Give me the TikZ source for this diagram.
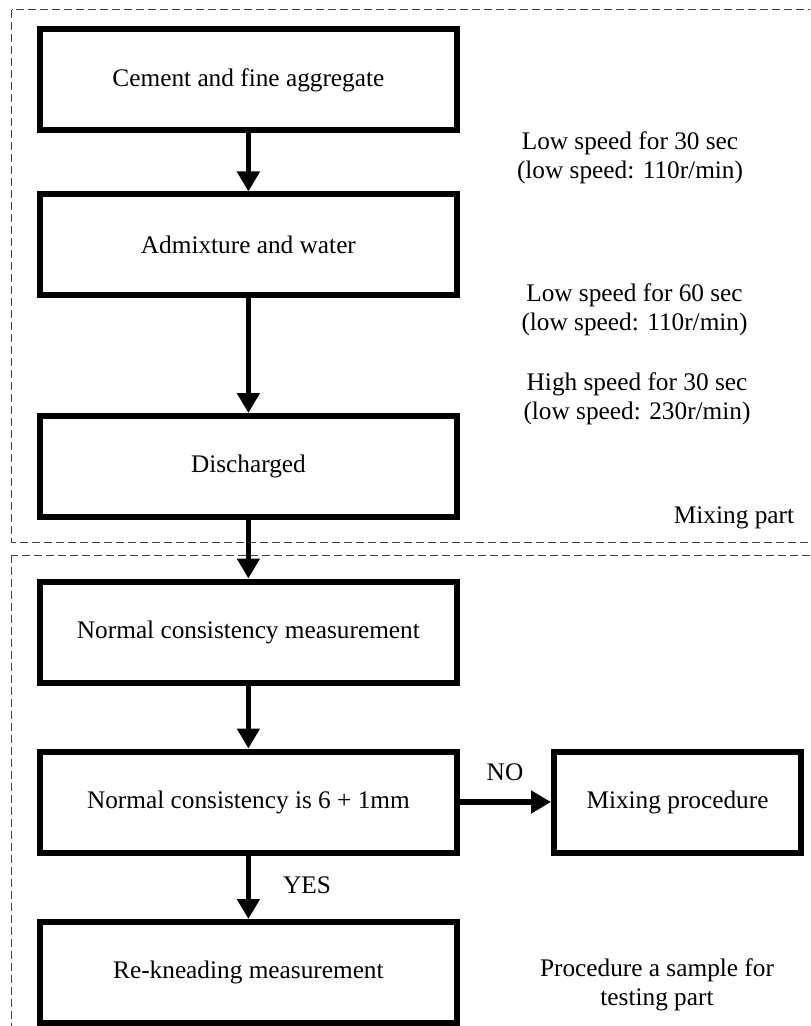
\documentclass[tikz,border=0pt]{standalone}
\usepackage{fontspec}
\setmainfont{Liberation Serif}
\usetikzlibrary{arrows.meta}
\usetikzlibrary{positioning}

\begin{document}
\begin{tikzpicture}[x=0.5pt, y=-0.5pt, every node/.style={font=\fontsize{12.65}{14.5}\selectfont}]
\tikzstyle{caja}=[
    draw,
    line width=3pt,
    minimum width=208.5pt,
    minimum height=50.5pt,
    inner sep=0pt
]
\tikzstyle{flecha}=[-{Triangle[length=10pt,width=11pt]}, line width=2.8pt]
\tikzstyle{zona}=[draw=black!75, line width=0.5pt, dash pattern=on 4pt off 2pt]
\tikzstyle{nota}=[align=center, inner sep=0pt]

\useasboundingbox (0,0) rectangle (810,1026);
\clip (0,0) rectangle (810,1026);

% Zonas
\draw[zona] (11.7,10) rectangle (830,542);
\draw[zona] (11.7,555) rectangle (830,1060);

% Cajas
\node[caja] (cement) at (248.4,80) {Cement and fine aggregate};
\node[caja] (admix) at (248.4,245) {Admixture and water};
\node[caja] (disch) at (248.4,466.5) {Discharged};
\node[caja] (meas) at (248.4,632) {Normal consistency measurement};
\node[caja] (check) at (248.4,802) {Normal consistency is 6 + 1mm};
\node[caja] (rekn) at (248.4,972.5) {Re-kneading measurement};
\node[caja, minimum width=123.5pt] (proc) at (677.5,802) {Mixing procedure};

% Textos
\node[nota] (paso1) at (630,158) {Low speed for 30 sec\\(low speed: 110r/min)};
\node[nota] (paso2) at (634.5,309.5) {Low speed for 60 sec\\(low speed: 110r/min)};
\node[nota] (paso3) at (637,398.5) {High speed for 30 sec\\(low speed: 230r/min)};
\node[nota, anchor=base] (mezcla) at (734,523) {Mixing part};
\node[nota] (ensayo) at (657,985) {Procedure a sample for\\testing part};
\node[nota, anchor=base] (no) at (505,780) {NO};
\node[nota, anchor=base] (yes) at (307,893) {YES};

% Flechas
\draw[flecha] (cement) -- (admix);
\draw[flecha] (admix) -- (disch);
\draw[flecha] (disch) -- (meas);
\draw[flecha] (meas) -- (check);
\draw[flecha] (check) -- (rekn);
\draw[flecha] (check) -- (proc);

\end{tikzpicture}
\end{document}
